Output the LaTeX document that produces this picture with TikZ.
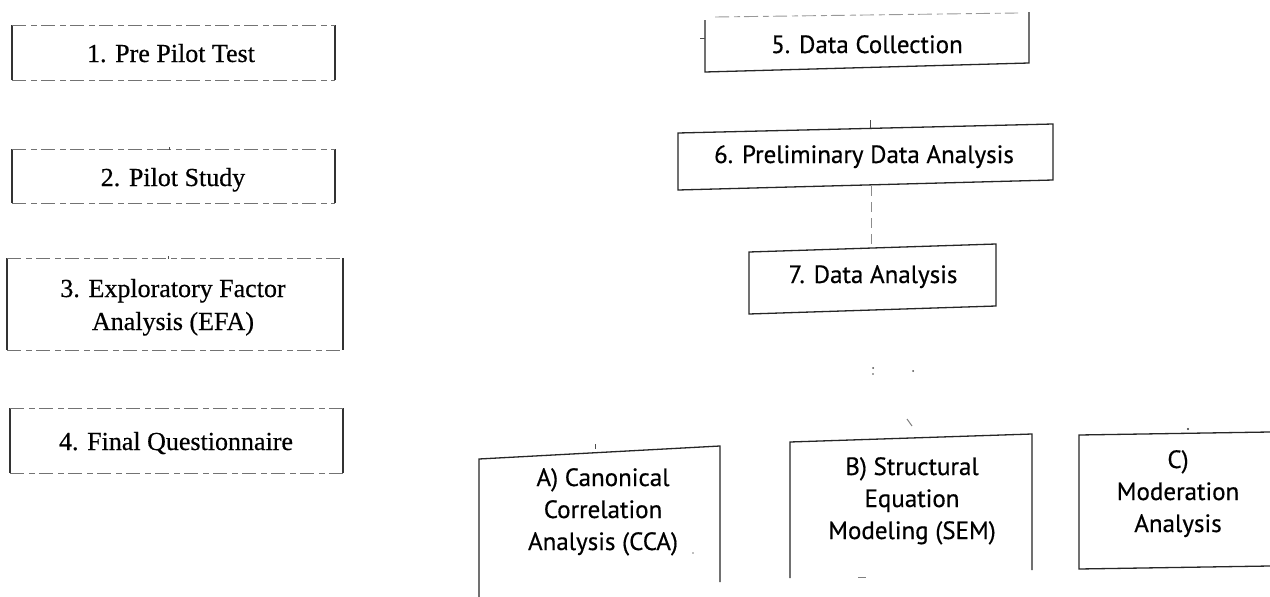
\documentclass[tikz,border=0pt]{standalone}
\usepackage{fontspec}
\setmainfont{Liberation Serif}[FakeBold=0.5]
\newfontfamily\rfont{PT Sans}[FakeBold=0.5]
\begin{document}
\begin{tikzpicture}[x=1pt,y=-1pt,
  edge/.style={line width=1.3pt,black!85},
  faint/.style={line width=0.9pt,black!55,dash pattern=on 14pt off 5pt on 6pt off 4pt},
  lside/.style={line width=1.2pt,black!80},
  ltext/.style={font=\fontsize{26}{33}\selectfont,align=center,inner sep=0pt,anchor=base},
  rtext/.style={font=\rfont\fontsize{25}{32}\selectfont,align=center,inner sep=0pt,anchor=base},
  speck/.style={line width=1pt,black!70}]
\useasboundingbox (0,0) rectangle (1270,597);
\fill[white] (0,0) rectangle (1270,597);

% ---------- left column ----------
\node[ltext] (t1) at (171,62) {1. Pre Pilot Test};
\node[ltext] (t2) at (173,186) {2. Pilot Study};
\node[ltext] (t3) at (173,330) {3. Exploratory Factor\\Analysis (EFA)};
\node[ltext] (t4) at (176,450) {4. Final Questionnaire};

\foreach \l/\t/\r/\b in {12/25/335/80, 12/149/335/203, 7/258/343/350, 10/408/343/473}{
  \draw[lside] (\l,\t) -- (\l,\b);
  \draw[lside] (\r,\t) -- (\r,\b);
  \draw[faint] (\l,\t) -- (\r,\t);
  \draw[faint] (\l,\b) -- (\r,\b);
}
\draw[speck] (169,147) -- (169,150);
\draw[speck] (168,256) -- (168,259);

% ---------- right column ----------
\node[rtext] (t5) at (867,53) {5. Data Collection};
\node[rtext] (t6) at (864,163) {6. Preliminary Data Analysis};
\node[rtext] (t7) at (873,283) {7. Data Analysis};

% box 5
\coordinate (b5tl) at (705,17);
\coordinate (b5tr) at (1029,12);
\coordinate (b5br) at (1029,63);
\coordinate (b5bl) at (705,72);
\draw[edge] (705,20) -- (b5bl) -- (b5br) -- (b5tr);
\draw[faint,black!40] (715,17) -- (1018,13);
\draw[speck] (700,38) -- (705,38);

% box 6
\coordinate (b6tl) at (678,133);
\coordinate (b6tr) at (1053,124);
\coordinate (b6br) at (1053,180);
\coordinate (b6bl) at (678,190);
\draw[edge] (b6tl) -- (b6tr) -- (b6br) -- (b6bl) -- cycle;
\draw[speck] (870,120) -- (870,128);

% box 7
\coordinate (b7tl) at (749,252);
\coordinate (b7tr) at (996,244);
\coordinate (b7br) at (996,306);
\coordinate (b7bl) at (749,314);
\draw[edge] (b7tl) -- (b7tr) -- (b7br) -- (b7bl) -- cycle;

% faint connector 6 -> 7
\coordinate (c6) at (871,186);
\coordinate (c7) at (871,248);
\draw[line width=0.8pt,black!45,dash pattern=on 10pt off 6pt] (c6) -- (c7);

% bottom boxes
\node[rtext] (ta) at (603,550) {A) Canonical\\Correlation\\Analysis (CCA)};
\node[rtext] (tb) at (912,539) {B) Structural\\Equation\\Modeling (SEM)};
\node[rtext] (tc) at (1178,532) {C)\\Moderation\\Analysis};

\draw[edge] (479,597) -- (479,459) -- (720,446) -- (720,582);
\draw[edge] (790,578) -- (790,442) -- (1032,434) -- (1032,570);
\draw[edge] (1270,432) -- (1079,435) -- (1079,569) -- (1270,566);

% specks
\fill[black!70] (873,368) circle (1pt);
\fill[black!70] (873,374) circle (0.8pt);
\fill[black!70] (913,371) circle (1pt);
\draw[speck,black!50] (907,419) -- (912,426);
\draw[speck] (595,444) -- (595,449);
\fill[black!80] (1188,429) circle (1.2pt);
\draw[speck,black!50] (858,577) -- (866,577);
\fill[black!50] (693,553) circle (0.8pt);
\end{tikzpicture}
\end{document}
